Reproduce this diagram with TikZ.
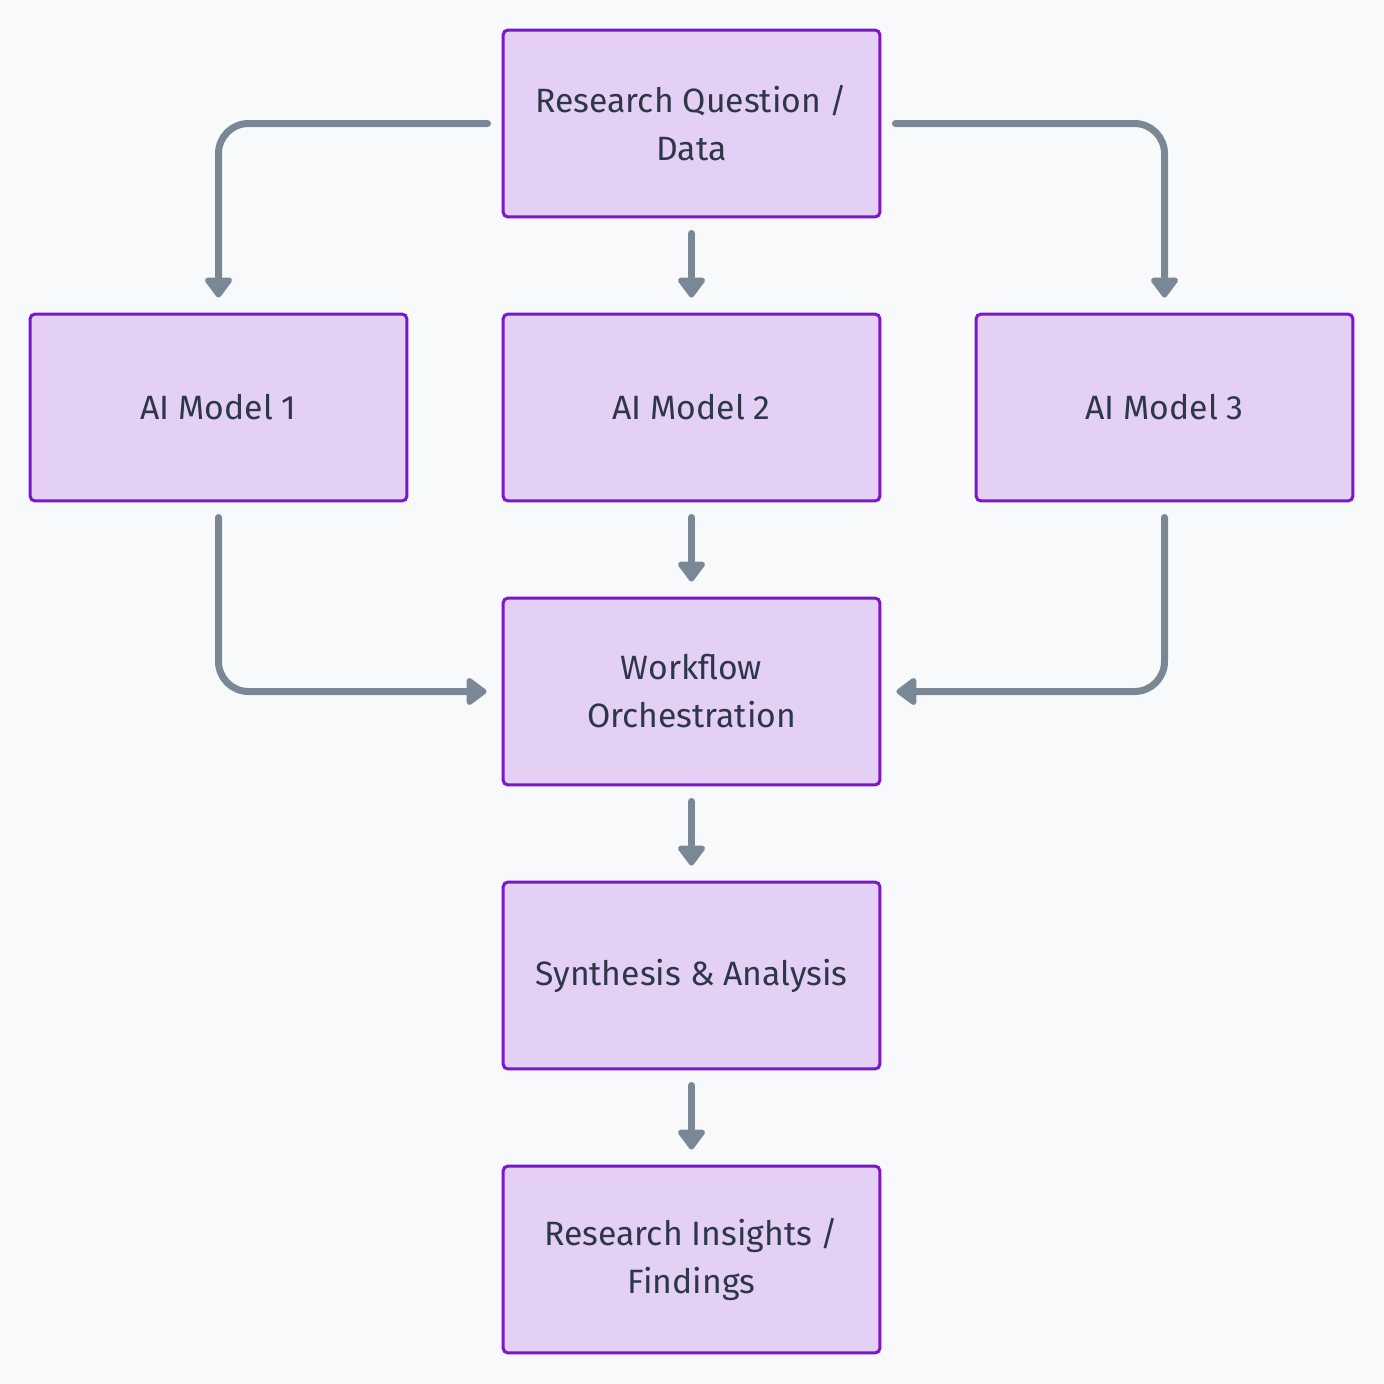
\documentclass[tikz,border=0pt]{standalone}
\usepackage{fontspec}
\setmainfont{Fira Sans}
\usetikzlibrary{arrows.meta,calc}
\definecolor{bg}{RGB}{248,249,250}
\definecolor{boxfill}{RGB}{228,208,244}
\definecolor{boxdraw}{RGB}{122,22,204}
\definecolor{arrcol}{RGB}{122,136,150}
\definecolor{txt}{RGB}{45,55,72}
\begin{document}
\begin{tikzpicture}[x=0.02cm,y=-0.02cm,
  box/.style={draw=boxdraw, fill=boxfill, line width=0.06cm, rounded corners=0.1cm,
    minimum width=7.54cm, minimum height=3.74cm, inner sep=0pt, align=center,
    text=txt, font=\fontsize{19.2pt}{27.3pt}\selectfont},
  arr/.style={draw=arrcol, line width=0.14cm, line cap=round, rounded corners=0.6cm,
    -{Triangle[length=0.44cm,width=0.62cm,line join=round]}}]
\fill[bg] (0,0) rectangle (1384,1384);
\useasboundingbox (0,0) rectangle (1384,1384);
\node[box] (q) at (691.5,123.5) {Research Question /\\Data};
\node[box] (m1) at (218.5,407.5) {AI Model 1};
\node[box] (m2) at (691.5,407.5) {AI Model 2};
\node[box] (m3) at (1164.5,407.5) {AI Model 3};
\node[box] (w) at (691.5,691.5) {Workflow\\Orchestration};
\node[box] (s) at (691.5,975.5) {Synthesis \& Analysis};
\node[box] (f) at (691.5,1259.5) {Research Insights /\\Findings};
\draw[arr] ($(q.west)+(-14,0)$) -| ($(m1.north)+(0,-15)$);
\draw[arr] ($(q.south)+(0,15)$) -- ($(m2.north)+(0,-15)$);
\draw[arr] ($(q.east)+(14,0)$) -| ($(m3.north)+(0,-15)$);
\draw[arr] ($(m1.south)+(0,15)$) |- ($(w.west)+(-15,0)$);
\draw[arr] ($(m2.south)+(0,15)$) -- ($(w.north)+(0,-15)$);
\draw[arr] ($(m3.south)+(0,15)$) |- ($(w.east)+(15,0)$);
\draw[arr] ($(w.south)+(0,15)$) -- ($(s.north)+(0,-15)$);
\draw[arr] ($(s.south)+(0,15)$) -- ($(f.north)+(0,-15)$);
\end{tikzpicture}
\end{document}
